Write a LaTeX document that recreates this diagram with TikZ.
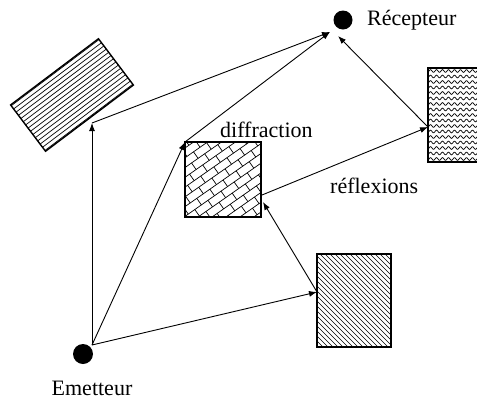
\documentclass[tikz,border=0pt]{standalone}
\usepackage{fontspec}
\setmainfont{Liberation Serif}
\usetikzlibrary{arrows.meta}
\begin{document}
\begin{tikzpicture}[x=1pt,y=-1pt,
  ray/.style={line width=0.9pt,-{Latex[length=8pt,width=6pt]}},
  border/.style={line width=1.4pt},
  hatch/.style={line width=0.7pt},
  lbl/.style={font=\fontsize{22}{25}\selectfont, inner sep=0pt},
  dot/.style={circle,fill=black,inner sep=0pt}]
\useasboundingbox (0,0) rectangle (477,405);

% rotated box (top left)
\begin{scope}[shift={(72,95)},rotate=37]
  \begin{scope}
    \clip (-55,-29) rectangle (55,29);
    \foreach \k in {-28,-24,...,28} \draw[hatch] (-60,\k) -- (60,\k);
  \end{scope}
  \draw[border] (-55,-29) rectangle (55,29);
\end{scope}

% diffraction box (bricks)
\begin{scope}
  \clip (185,142) rectangle (261,217);
  \begin{scope}[shift={(223,180)},rotate=35]
    \foreach \i in {-8,...,8} \draw[hatch] (-80,\i*8) -- (80,\i*8);
    \foreach \i in {-8,-6,...,8} {
      \foreach \j in {-6,...,6} {
        \draw[hatch] (\j*16,\i*8) -- ++(0,8);
        \draw[hatch] (\j*16+8,\i*8+8) -- ++(0,8);
      }
    }
  \end{scope}
\end{scope}
\draw[border] (185,142) rectangle (261,217);

% wavy box (right)
\begin{scope}
  \clip (428,68) rectangle (478,162);
  \foreach \yy in {71,76.5,...,162}
    \draw[hatch] plot[domain=0:52,samples=80,smooth] ({426+\x},{\yy+1.4*sin(60*\x)});
\end{scope}
\draw[border] (478,68) -- (428,68) -- (428,162) -- (478,162);

% lower box (diagonal hatch)
\begin{scope}
  \clip (317,254) rectangle (391,347);
  \foreach \x in {200,205,...,400} \draw[hatch] (\x,254) -- (\x+100,354);
\end{scope}
\draw[border] (317,254) rectangle (391,347);

% emitter and receiver
\node[dot,minimum size=20pt] (E) at (83,354) {};
\node[dot,minimum size=19pt] (R) at (343,20) {};
\node[lbl,anchor=base] (Elbl) at (92,395) {Emetteur};
\node[lbl,anchor=base west] (Rlbl) at (367,25) {Récepteur};
\node[lbl,anchor=base west] (dlbl) at (220,137) {diffraction};
\node[lbl,anchor=base west] (rlbl) at (330,193) {réflexions};

% reflection points
\coordinate (e0) at (92,345);
\coordinate (p1) at (92,123);
\coordinate (p2) at (185,142);
\coordinate (p3) at (317,292);
\coordinate (p4in) at (263,202);
\coordinate (p4) at (262,195);
\coordinate (p5) at (428,127);
\coordinate (rA) at (330,32);
\coordinate (rB) at (338,36);

% rays
\draw[ray] (e0) -- (p1);
\draw[ray] (p1) -- (rA);
\draw[ray] (e0) -- (p2);
\draw[ray] (p2) -- (rA);
\draw[ray] (e0) -- (p3);
\draw[ray] (p3) -- (p4in);
\draw[ray] (p4) -- (p5);
\draw[ray] (p5) -- (rB);
\end{tikzpicture}
\end{document}
